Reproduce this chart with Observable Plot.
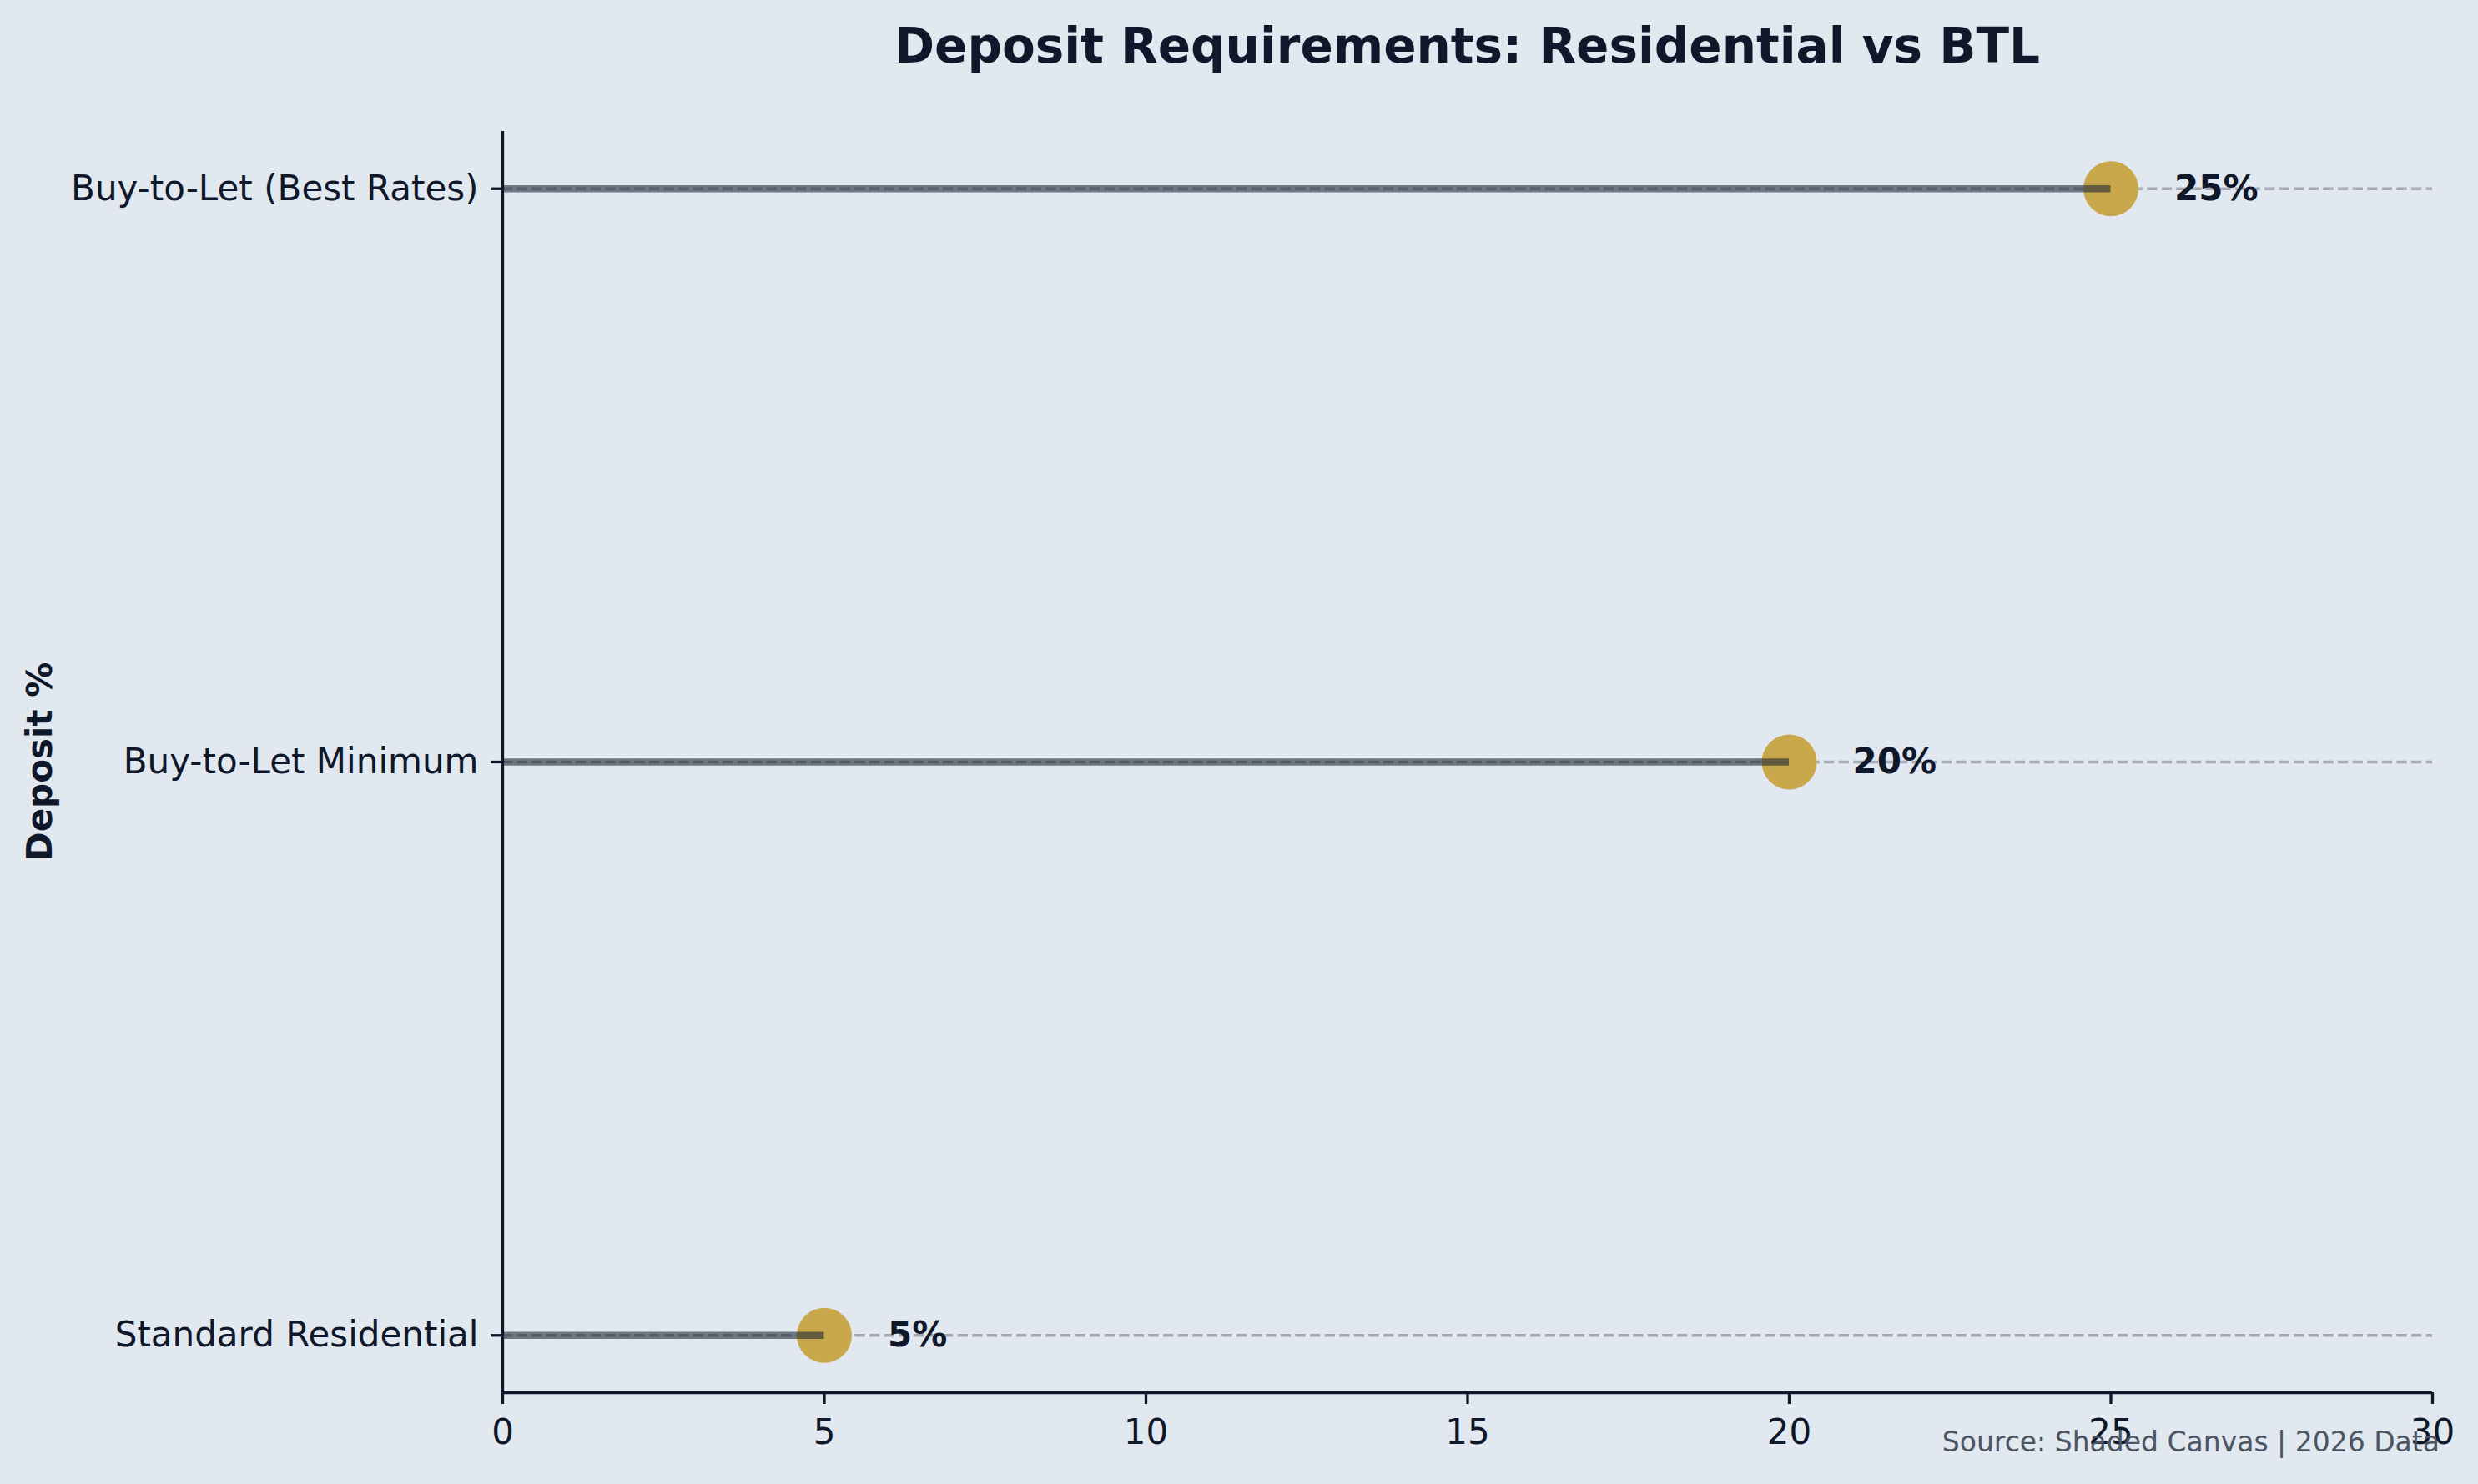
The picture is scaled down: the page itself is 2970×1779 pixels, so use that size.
<!DOCTYPE html>
<html>
<head>
<meta charset="utf-8">
<script src="https://cdn.jsdelivr.net/npm/d3@7"></script>
<script src="https://cdn.jsdelivr.net/npm/@observablehq/plot@0.6"></script>
<style>
  html, body { margin: 0; padding: 0; background: #e2e8f0; }
  #wrap { position: relative; width: 2970px; height: 1779px; overflow: hidden; background: #e2e8f0; font-family: "DejaVu Sans", sans-serif; }
  #title { position: absolute; left: 602px; width: 2313px; top: 26px; text-align: center; font-size: 58px; line-height: 58px; font-weight: bold; color: #0f172a; white-space: nowrap; }
  #ylabel { position: absolute; left: 48px; top: 913px; transform: translate(-50%, -50%) rotate(-90deg); font-size: 42px; line-height: 42px; font-weight: bold; color: #0f172a; white-space: nowrap; }
  #caption { position: absolute; right: 46px; top: 1712px; font-size: 33px; line-height: 33px; color: #4b5563; white-space: nowrap; }
  #chart { position: absolute; left: 0; top: 0; }
</style>
</head>
<body>
<div id="wrap">
  <div id="chart"></div>
  <div id="title"></div>
  <div id="ylabel"></div>
  <div id="caption"></div>
</div>
<script>
const titleText = "Deposit Requirements: Residential vs BTL";
const yLabelText = "Deposit %";
const captionText = "Source: Shaded Canvas | 2026 Data";

const categories = ["Standard Residential", "Buy-to-Let Minimum", "Buy-to-Let (Best Rates)"];
const deposits = [5, 20, 25];
const xTicks = [0, 5, 10, 15, 20, 25, 30];
const xDomain = [0, 30];
const yDomain = [-0.1, 2.1];

document.getElementById("title").textContent = titleText;
document.getElementById("ylabel").textContent = yLabelText;
document.getElementById("caption").textContent = captionText;

const data = categories.map((c, i) => ({category: c, i, value: deposits[i]}));

const ink = "#0f172a";

const chart = Plot.plot({
  width: 2970,
  height: 1779,
  marginLeft: 602,
  marginRight: 55,
  marginTop: 157,
  marginBottom: 110,
  style: {background: "transparent", fontFamily: "DejaVu Sans, sans-serif", color: ink},
  x: {domain: xDomain, label: null},
  y: {domain: yDomain, label: null},
  marks: [
    // dashed guide lines
    Plot.ruleY(data, {y: "i", x1: xDomain[0], x2: xDomain[1], stroke: "#a3a8b2", strokeWidth: 3.3, strokeDasharray: "12.3,5.3"}),
    // dots
    Plot.dot(data, {x: "value", y: "i", r: 33, fill: "#c9a84b", stroke: "none"}),
    // stems
    Plot.ruleY(data, {y: "i", x1: xDomain[0], x2: "value", stroke: "#1f2937", strokeOpacity: 0.6, strokeWidth: 8.3}),
    // value labels
    Plot.text(data, {x: "value", y: "i", text: d => d.value + "%", dx: 76, textAnchor: "start", fontWeight: "bold", fontSize: 42, fill: ink}),
    // spines
    Plot.ruleX([xDomain[0]], {stroke: ink, strokeWidth: 3.3}),
    Plot.ruleY([yDomain[0]], {stroke: ink, strokeWidth: 3.3}),
    // axes
    Plot.axisX({ticks: xTicks, tickFormat: d => String(d), tickSize: 14, tickPadding: 18, fontSize: 42, stroke: ink, strokeWidth: 3.3, fill: ink, label: null}),
    Plot.axisY({ticks: categories.map((c, i) => i), tickFormat: i => categories[i], tickSize: 14, tickPadding: 15, fontSize: 42, stroke: ink, strokeWidth: 3.3, fill: ink, label: null})
  ]
});
document.getElementById("chart").appendChild(chart);
</script>
</body>
</html>
